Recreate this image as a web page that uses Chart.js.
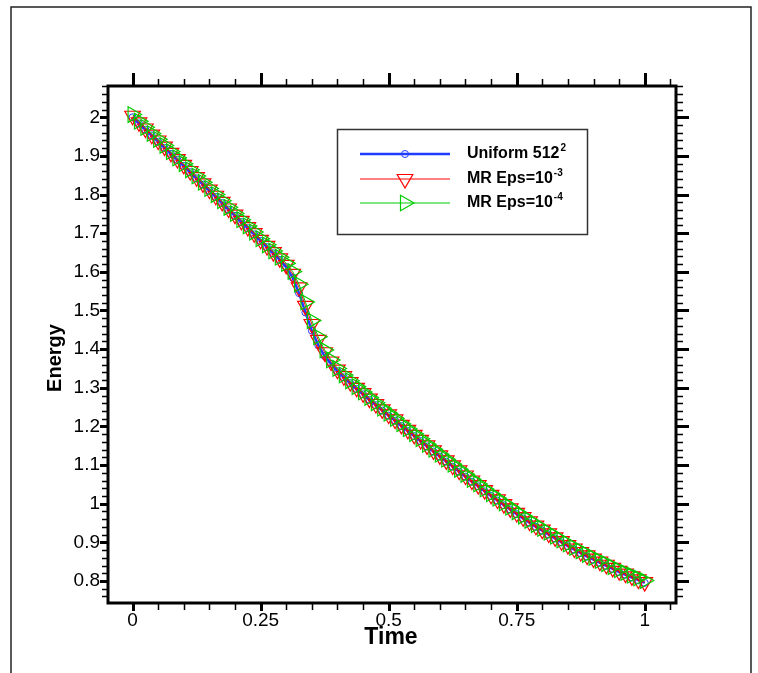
<!DOCTYPE html>
<html>
<head>
<meta charset="utf-8">
<script src="https://cdn.jsdelivr.net/npm/chart.js@4.4.0/dist/chart.umd.min.js"></script>
<style>
html, body { margin:0; padding:0; background:#fff; }
#wrap { position:relative; width:758px; height:673px; }
</style>
</head>
<body>
<div id="wrap"><canvas id="energy_chart" width="758" height="673"></canvas></div>
<script>
/*** DATA ***/
const time = [0, 0.0125, 0.025, 0.0375, 0.05, 0.0625, 0.075, 0.0875, 0.1, 0.1125,
  0.125, 0.1375, 0.15, 0.1625, 0.175, 0.1875, 0.2, 0.2125, 0.225, 0.2375,
  0.25, 0.2625, 0.275, 0.2875, 0.3, 0.3125, 0.325, 0.3375, 0.35, 0.3625,
  0.375, 0.3875, 0.4, 0.4125, 0.425, 0.4375, 0.45, 0.4625, 0.475, 0.4875,
  0.5, 0.5125, 0.525, 0.5375, 0.55, 0.5625, 0.575, 0.5875, 0.6, 0.6125,
  0.625, 0.6375, 0.65, 0.6625, 0.675, 0.6875, 0.7, 0.7125, 0.725, 0.7375,
  0.75, 0.7625, 0.775, 0.7875, 0.8, 0.8125, 0.825, 0.8375, 0.85, 0.8625,
  0.875, 0.8875, 0.9, 0.9125, 0.925, 0.9375, 0.95, 0.9625, 0.975, 0.9875, 1.0];

const uniform512 = [2.000, 1.984, 1.968, 1.953, 1.937, 1.921, 1.905, 1.890, 1.874, 1.858,
  1.842, 1.826, 1.810, 1.794, 1.778, 1.761, 1.745, 1.729, 1.713, 1.697,
  1.680, 1.664, 1.648, 1.631, 1.612, 1.585, 1.545, 1.495, 1.448, 1.410,
  1.382, 1.362, 1.343, 1.327, 1.312, 1.297, 1.283, 1.269, 1.255, 1.241,
  1.228, 1.215, 1.201, 1.188, 1.175, 1.162, 1.148, 1.135, 1.122, 1.109,
  1.096, 1.083, 1.070, 1.057, 1.045, 1.032, 1.020, 1.008, 0.996, 0.985,
  0.973, 0.962, 0.951, 0.940, 0.930, 0.920, 0.910, 0.900, 0.890, 0.881,
  0.872, 0.863, 0.855, 0.847, 0.839, 0.831, 0.823, 0.816, 0.809, 0.802, 0.795];

const mrEps3 = [2.004, 1.987, 1.971, 1.955, 1.940, 1.924, 1.908, 1.892, 1.877, 1.861,
  1.845, 1.829, 1.813, 1.797, 1.781, 1.764, 1.748, 1.732, 1.716, 1.700,
  1.683, 1.667, 1.651, 1.635, 1.618, 1.595, 1.560, 1.512, 1.465, 1.424,
  1.392, 1.368, 1.347, 1.330, 1.315, 1.300, 1.286, 1.272, 1.258, 1.244,
  1.231, 1.218, 1.204, 1.191, 1.178, 1.165, 1.151, 1.138, 1.125, 1.112,
  1.099, 1.086, 1.073, 1.060, 1.048, 1.035, 1.023, 1.011, 0.999, 0.988,
  0.976, 0.965, 0.954, 0.943, 0.933, 0.923, 0.913, 0.903, 0.893, 0.884,
  0.875, 0.866, 0.858, 0.850, 0.842, 0.834, 0.826, 0.819, 0.812, 0.804, 0.797];

const mrEps4 = [2.007, 1.990, 1.974, 1.958, 1.943, 1.927, 1.911, 1.895, 1.880, 1.864,
  1.848, 1.832, 1.816, 1.800, 1.784, 1.767, 1.751, 1.735, 1.719, 1.703,
  1.686, 1.670, 1.654, 1.638, 1.622, 1.601, 1.568, 1.522, 1.474, 1.432,
  1.398, 1.372, 1.350, 1.333, 1.318, 1.303, 1.289, 1.275, 1.261, 1.247,
  1.234, 1.221, 1.207, 1.194, 1.181, 1.168, 1.154, 1.141, 1.128, 1.115,
  1.102, 1.089, 1.076, 1.063, 1.051, 1.038, 1.026, 1.014, 1.002, 0.991,
  0.979, 0.968, 0.957, 0.946, 0.936, 0.926, 0.916, 0.906, 0.896, 0.887,
  0.878, 0.869, 0.861, 0.853, 0.845, 0.837, 0.829, 0.822, 0.815, 0.808, 0.801];

const xTicks = [0, 0.25, 0.5, 0.75, 1];
const xTickLabels = ['0', '0.25', '0.5', '0.75', '1'];
const yTicks = [0.8, 0.9, 1, 1.1, 1.2, 1.3, 1.4, 1.5, 1.6, 1.7, 1.8, 1.9, 2];
const yTickLabels = ['0.8', '0.9', '1', '1.1', '1.2', '1.3', '1.4', '1.5', '1.6', '1.7', '1.8', '1.9', '2'];

const seriesNames = ['Uniform 512', 'MR Eps=10', 'MR Eps=10'];
const seriesSup = ['2', '-3', '-4'];

const FONT = "'Liberation Sans', Arial, Helvetica, sans-serif";
const BLUE = '#1f3cff', RED = '#ff0000', GREEN = '#00cc00';

function pts(vals) { return vals.map((v, i) => ({x: time[i], y: v})); }

/*** small marker drawer for the legend ***/
function marker(ctx, style, rot, r, x, y) {
  ctx.beginPath();
  if (style === 'circle') {
    ctx.arc(x, y, r, 0, Math.PI * 2);
  } else {
    let a = rot * Math.PI / 180;
    for (let k = 0; k < 3; k++) {
      let px = x + Math.sin(a) * r, py = y - Math.cos(a) * r;
      if (k === 0) ctx.moveTo(px, py); else ctx.lineTo(px, py);
      a += Math.PI * 2 / 3;
    }
    ctx.closePath();
  }
  ctx.stroke();
}

/*** frame, minor/major ticks, titles, legend ***/
const decorPlugin = {
  id: 'decor',
  afterDraw(chart) {
    const ctx = chart.ctx, a = chart.chartArea, x = chart.scales.x, y = chart.scales.y;
    ctx.save();

    // page frame
    ctx.strokeStyle = '#222';
    ctx.lineWidth = 1.5;
    ctx.beginPath();
    ctx.moveTo(11, 673); ctx.lineTo(11, 7); ctx.lineTo(751, 7); ctx.lineTo(751, 673);
    ctx.stroke();

    ctx.strokeStyle = '#000';
    // x ticks (bottom + top)
    for (let k = 0; k <= 21; k++) {
      const v = k * 0.05, major = k % 5 === 0;
      const px = Math.round(x.getPixelForValue(v)) + 0.5;
      ctx.lineWidth = major ? 3 : 1.5;
      ctx.beginPath();
      ctx.moveTo(px, a.bottom); ctx.lineTo(px, a.bottom + (major ? 8 : 7));
      ctx.moveTo(px, a.top); ctx.lineTo(px, a.top - (major ? 13 : 7));
      ctx.stroke();
    }
    // y ticks (left + right)
    for (let k = 38; k <= 104; k++) {
      const v = k * 0.02, major = k % 5 === 0;
      const py = Math.round(y.getPixelForValue(v)) + 0.5;
      ctx.lineWidth = major ? 3 : 1.5;
      ctx.beginPath();
      ctx.moveTo(a.left, py); ctx.lineTo(a.left - (major ? 8 : 6), py);
      ctx.moveTo(a.right, py); ctx.lineTo(a.right + (major ? 13 : 7), py);
      ctx.stroke();
    }
    // plot border
    ctx.lineWidth = 3;
    ctx.strokeRect(a.left, a.top, a.right - a.left, a.bottom - a.top);

    // axis titles
    ctx.fillStyle = '#000';
    ctx.font = 'bold 23px ' + FONT;
    ctx.textAlign = 'center';
    ctx.textBaseline = 'middle';
    ctx.fillText('Time', 391, 638);
    ctx.save();
    ctx.translate(55, 358);
    ctx.rotate(-Math.PI / 2);
    ctx.font = 'bold 20px ' + FONT;
    ctx.fillText('Energy', 0, 0);
    ctx.restore();

    // legend
    ctx.lineWidth = 1.5;
    ctx.strokeStyle = '#333';
    ctx.strokeRect(337.5, 129.5, 250, 105);
    const rows = [154, 179, 203];
    const sets = chart.data.datasets;
    ctx.textAlign = 'left';
    for (let i = 0; i < 3; i++) {
      const ds = sets[i], ry = rows[i];
      ctx.strokeStyle = ds.borderColor;
      ctx.lineWidth = ds.borderWidth;
      ctx.beginPath(); ctx.moveTo(360, ry); ctx.lineTo(450, ry); ctx.stroke();
      ctx.lineWidth = ds.pointBorderWidth;
      marker(ctx, ds.pointStyle, ds.pointRotation || 0, ds.pointRadius, 405, ry);
      ctx.fillStyle = '#000';
      ctx.font = 'bold 16px ' + FONT;
      ctx.textBaseline = 'middle';
      ctx.fillText(seriesNames[i], 467, ry);
      const w = ctx.measureText(seriesNames[i]).width;
      ctx.font = 'bold 10px ' + FONT;
      ctx.fillText(seriesSup[i], 467 + w + 1, ry - 6);
    }
    ctx.restore();
  }
};

Chart.defaults.font.family = FONT;
Chart.defaults.color = '#000';

let ctx = document.getElementById('energy_chart').getContext('2d');

new Chart(ctx, {
  type: 'line',
  data: {
    datasets: [{
      label: 'Uniform 512^2',
      data: pts(uniform512),
      borderColor: BLUE,
      borderWidth: 2.5,
      pointStyle: 'circle',
      pointRadius: 3.5,
      pointBorderWidth: 1,
      pointBorderColor: BLUE,
      pointBackgroundColor: 'rgba(0,0,0,0)',
      order: 3
    }, {
      label: 'MR Eps=10^-3',
      data: pts(mrEps3),
      borderColor: RED,
      borderWidth: 1,
      pointStyle: 'triangle',
      pointRotation: 180,
      pointRadius: 9,
      pointBorderWidth: 1.2,
      pointBorderColor: RED,
      pointBackgroundColor: 'rgba(0,0,0,0)',
      order: 2
    }, {
      label: 'MR Eps=10^-4',
      data: pts(mrEps4),
      borderColor: GREEN,
      borderWidth: 1,
      pointStyle: 'triangle',
      pointRotation: 90,
      pointRadius: 9,
      pointBorderWidth: 1.2,
      pointBorderColor: GREEN,
      pointBackgroundColor: 'rgba(0,0,0,0)',
      order: 1
    }]
  },
  options: {
    responsive: false,
    devicePixelRatio: 1,
    animation: false,
    parsing: true,
    layout: { padding: { top: 86, right: 82, left: 0, bottom: 0 } },
    plugins: {
      legend: { display: false },
      tooltip: { enabled: false }
    },
    scales: {
      x: {
        type: 'linear',
        min: -0.048,
        max: 1.061,
        afterFit: s => { s.height = 70; },
        afterBuildTicks: s => { s.ticks = xTicks.map(v => ({value: v})); },
        grid: { display: false, drawTicks: false },
        border: { display: false },
        ticks: {
          autoSkip: false,
          maxRotation: 0,
          padding: 6,
          font: { size: 19 },
          callback: (v, i) => xTickLabels[i]
        }
      },
      y: {
        type: 'linear',
        min: 0.743,
        max: 2.081,
        afterFit: s => { s.width = 108; },
        afterBuildTicks: s => { s.ticks = yTicks.map(v => ({value: v})); },
        grid: { display: false, drawTicks: false },
        border: { display: false },
        ticks: {
          autoSkip: false,
          padding: 8,
          font: { size: 19 },
          callback: (v, i) => yTickLabels[i]
        }
      }
    }
  },
  plugins: [decorPlugin]
});
</script>
</body>
</html>
